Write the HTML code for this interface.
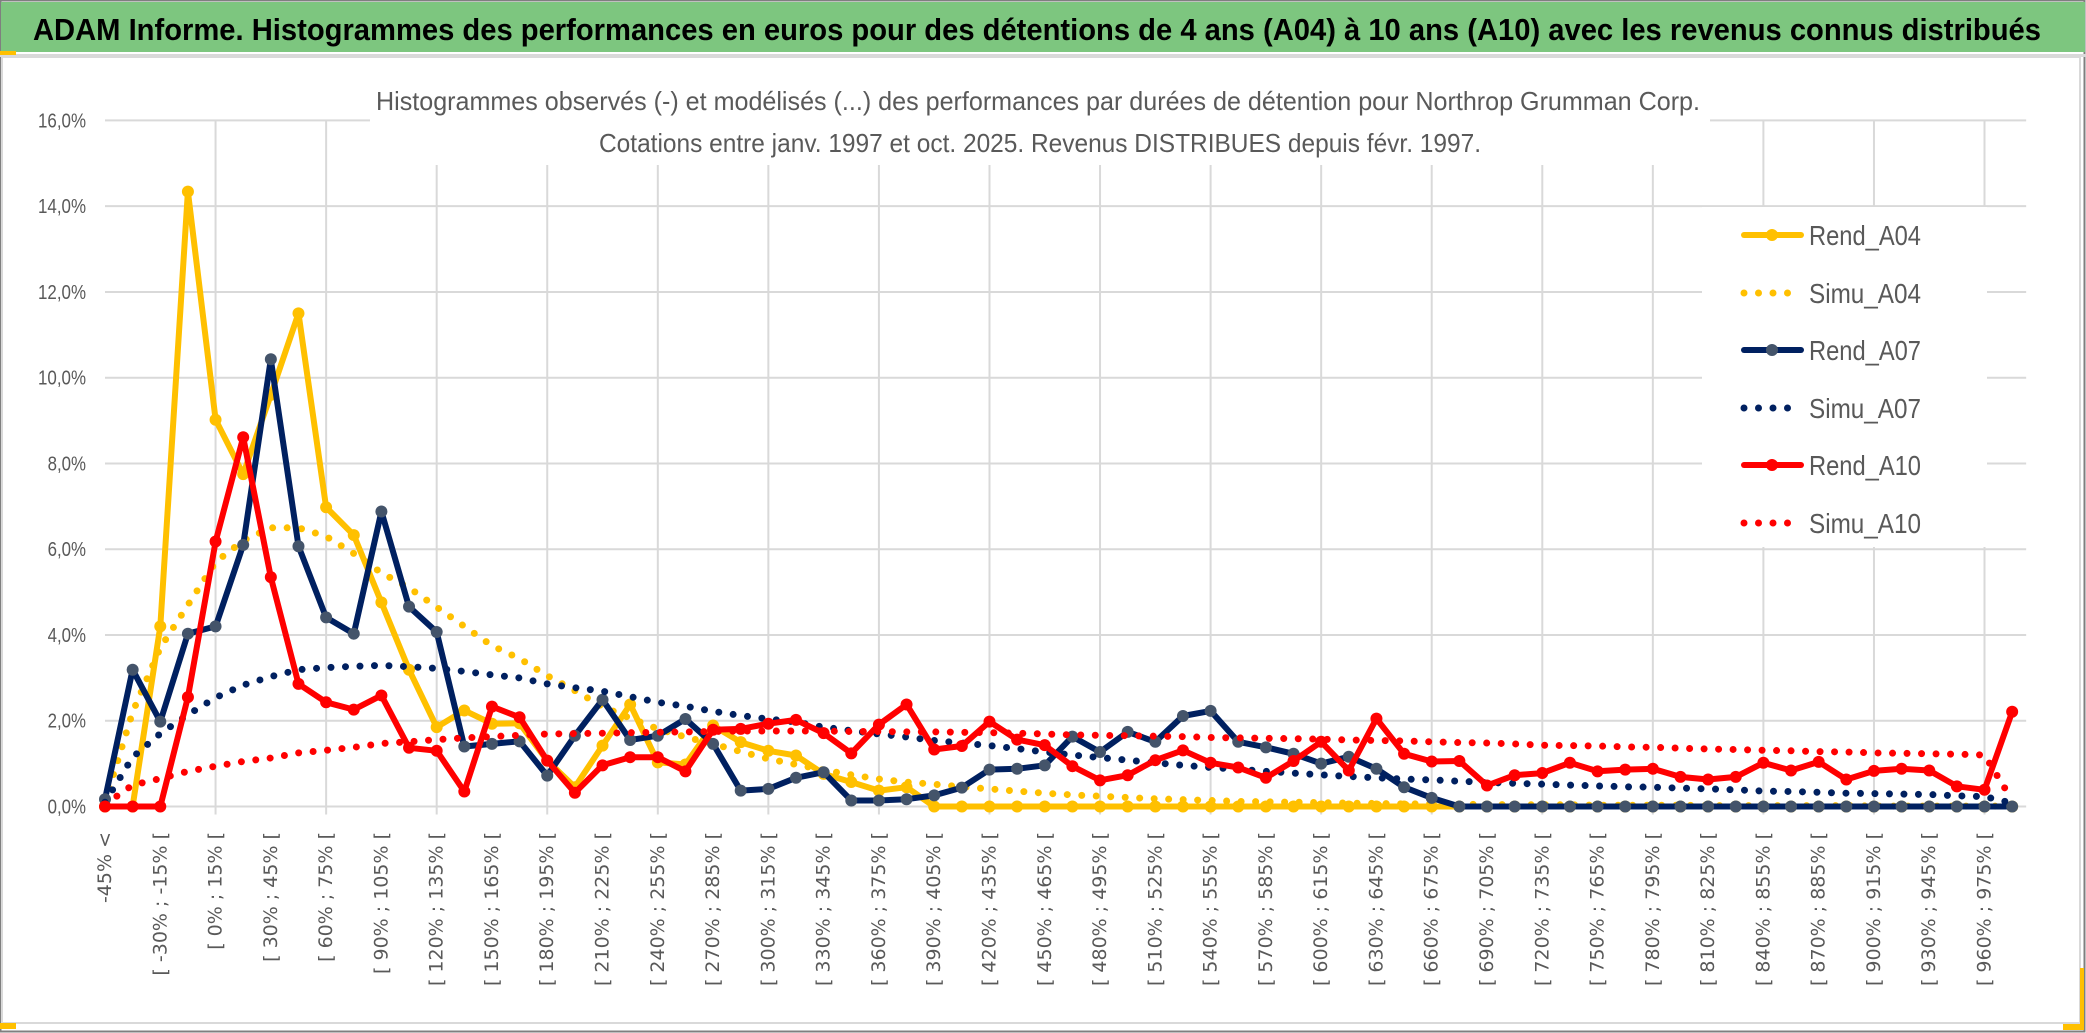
<!DOCTYPE html>
<html><head><meta charset="utf-8"><style>
html,body{margin:0;padding:0;background:#fff;}
svg{display:block;}
</style></head><body>
<svg id="chart" width="2086" height="1033" viewBox="0 0 2086 1033" xmlns="http://www.w3.org/2000/svg">
  <rect x="0" y="0" width="2086" height="1033" fill="#fff"/>
  <rect x="0.5" y="0.5" width="2084" height="1031" fill="none" stroke="#7f7f7f" stroke-width="2"/>
  <rect x="1" y="2" width="2084" height="50" fill="#7dc67f"/>
  <rect x="0" y="54" width="2086" height="3" fill="#d9d9d9"/>
  <rect x="0" y="51" width="16" height="4" fill="#ffc000"/>
  <rect x="2" y="57" width="2078" height="966" fill="none" stroke="#d9d9d9" stroke-width="2"/>
  <rect x="0" y="1023" width="16" height="6" fill="#ffc000"/>
  <rect x="2080" y="968" width="4" height="62" fill="#ffc000"/>
  <rect x="2063" y="1024" width="20" height="6" fill="#ffc000"/>
  <text x="33" y="40" font-family="'Liberation Sans', sans-serif" font-weight="bold" font-size="31" fill="#000" textLength="2008" lengthAdjust="spacingAndGlyphs">ADAM Informe. Histogrammes des performances en euros pour des détentions de 4 ans (A04) à 10 ans (A10) avec les revenus connus distribués</text>
  <g id="grid"></g>
  <rect x="370" y="80" width="1340" height="85" fill="#fff"/>
  <text x="376" y="110" font-family="'Liberation Sans', sans-serif" font-size="26" fill="#595959" textLength="1324" lengthAdjust="spacingAndGlyphs">Histogrammes observés (-) et modélisés (...) des performances par durées de détention pour Northrop Grumman Corp.</text>
  <text x="599" y="152" font-family="'Liberation Sans', sans-serif" font-size="26" fill="#595959" textLength="882" lengthAdjust="spacingAndGlyphs">Cotations entre janv. 1997 et oct. 2025. Revenus DISTRIBUES depuis févr. 1997.</text>
  <g id="yaxis"></g>
  <g id="xaxis"></g>
  <g id="series"></g>
  <g id="legend"></g>
</svg>
<script>
const categoryStarts = [];
for (let k = 1; k < 70; k++) categoryStarts.push(15 * k - 60);
const categories = ["-45% <"].concat(categoryStarts.map(s => "[ " + s + "% ; " + (s + 15) + "% ["));
const yTicks = [0, 2, 4, 6, 8, 10, 12, 14, 16];
const yTickLabels = ["0,0%", "2,0%", "4,0%", "6,0%", "8,0%", "10,0%", "12,0%", "14,0%", "16,0%"];
const seriesNames = ["Rend_A04", "Simu_A04", "Rend_A07", "Simu_A07", "Rend_A10", "Simu_A10"];
const rendA04 = [0,0,4.2,14.34,9.02,7.75,9.6,11.5,6.98,6.33,4.76,3.19,1.85,2.24,1.93,1.94,1.07,0.45,1.42,2.38,1.03,0.98,1.89,1.5,1.3,1.19,0.76,0.57,0.37,0.45,0,0,0,0,0,0,0,0,0,0,0,0,0,0,0,0,0,0,0,0,0,0,0,0,0,0,0,0,0,0,0,0,0,0,0,0,0,0,0,0];
const simuA04 = [0.1,2.2,3.7,4.7,5.7,6.2,6.5,6.5,6.3,5.9,5.45,5.1,4.65,4.2,3.75,3.45,3.05,2.7,2.33,2.06,1.81,1.62,1.46,1.28,1.11,0.98,0.85,0.74,0.64,0.57,0.52,0.46,0.41,0.36,0.31,0.27,0.24,0.21,0.18,0.16,0.14,0.12,0.11,0.1,0.09,0.08,0.07,0.06,0.06,0.05,0.05,0.04,0.04,0.04,0.03,0.03,0.03,0.03,0.02,0.02,0.02,0.02,0.02,0.02,0.01,0.01,0.01,0.01,0.01,0.01];
const rendA07 = [0.17,3.19,1.98,4.03,4.2,6.1,10.43,6.07,4.41,4.03,6.88,4.66,4.07,1.4,1.46,1.52,0.72,1.65,2.49,1.55,1.65,2.04,1.46,0.37,0.41,0.67,0.8,0.14,0.14,0.17,0.26,0.44,0.86,0.88,0.96,1.63,1.27,1.74,1.51,2.11,2.23,1.51,1.38,1.23,1.0,1.16,0.88,0.45,0.2,0,0,0,0,0,0,0,0,0,0,0,0,0,0,0,0,0,0,0,0,0];
const simuA07 = [0.1,1.15,1.7,2.14,2.54,2.83,3.03,3.19,3.24,3.27,3.29,3.26,3.22,3.15,3.07,3.0,2.86,2.77,2.69,2.56,2.43,2.34,2.22,2.12,2.04,1.97,1.85,1.77,1.69,1.62,1.54,1.48,1.42,1.35,1.27,1.2,1.14,1.08,1.02,0.96,0.91,0.87,0.82,0.78,0.74,0.7,0.67,0.64,0.62,0.59,0.56,0.54,0.52,0.5,0.48,0.46,0.45,0.43,0.41,0.39,0.36,0.35,0.33,0.31,0.3,0.29,0.28,0.25,0.23,0.08];
const rendA10 = [0,0,0,2.55,6.18,8.61,5.35,2.86,2.43,2.26,2.59,1.37,1.3,0.35,2.33,2.08,1.07,0.32,0.96,1.15,1.15,0.82,1.79,1.81,1.93,2.02,1.71,1.24,1.91,2.38,1.33,1.41,1.98,1.56,1.43,0.94,0.61,0.73,1.08,1.31,1.02,0.91,0.67,1.06,1.51,0.84,2.05,1.23,1.05,1.06,0.49,0.73,0.78,1.02,0.82,0.86,0.88,0.69,0.63,0.69,1.02,0.84,1.04,0.63,0.83,0.88,0.84,0.47,0.39,2.21];
const simuA10 = [0.05,0.5,0.65,0.82,0.94,1.05,1.13,1.25,1.31,1.38,1.47,1.51,1.56,1.6,1.63,1.66,1.69,1.7,1.71,1.72,1.73,1.74,1.75,1.76,1.76,1.76,1.76,1.75,1.75,1.74,1.74,1.73,1.72,1.71,1.69,1.67,1.66,1.65,1.64,1.63,1.61,1.6,1.59,1.58,1.57,1.55,1.54,1.53,1.51,1.49,1.48,1.46,1.43,1.42,1.41,1.39,1.38,1.36,1.34,1.33,1.31,1.3,1.28,1.27,1.25,1.24,1.23,1.22,1.2,0.15];

const NS = "http://www.w3.org/2000/svg";
const X0 = 105, STEP = 27.64, Y0 = 806.5, PER = 42.88;
function xPos(i) { return X0 + STEP * i; }
function yPos(v) { return Y0 - PER * v; }
function mk(tag, parent, attrs) {
  const e = document.createElementNS(NS, tag);
  for (const k in attrs) e.setAttribute(k, attrs[k]);
  parent.appendChild(e);
  return e;
}
const grid = document.getElementById("grid");
const yaxis = document.getElementById("yaxis");
const xaxis = document.getElementById("xaxis");
const seriesG = document.getElementById("series");
const legend = document.getElementById("legend");
const PLOT_L = X0, PLOT_R = xPos(categories.length - 1) + 14;

yTicks.forEach((t, k) => {
  const l = mk("line", grid, {x1: PLOT_L, x2: PLOT_R, y1: yPos(t), y2: yPos(t), stroke: "#d9d9d9", "stroke-width": 2});
  
  
  const tx = mk("text", yaxis, {x: 86, y: yPos(t) + 7, "text-anchor": "end", "font-family": "'Liberation Sans', sans-serif", "font-size": 20, fill: "#595959", textLength: yTickLabels[k].length * 9.6, lengthAdjust: "spacingAndGlyphs"});
  tx.textContent = yTickLabels[k];
  
  
});
for (let i = 4; i < categories.length; i += 4) {
  const l = mk("line", grid, {x1: xPos(i), x2: xPos(i), y1: yPos(16), y2: Y0 + 8, stroke: "#d9d9d9", "stroke-width": 2});
  
  
}
categories.forEach((c, i) => {
  if (i % 2 !== 0) return;
  const x = xPos(i), y = 832;
  const tx = mk("text", xaxis, {x: x, y: y, transform: "rotate(-90 " + x + " " + y + ")", "text-anchor": "end", "dominant-baseline": "central", "font-family": "'DejaVu Sans', sans-serif", "font-size": 19, fill: "#595959"});
  tx.textContent = c;
  
  
});

const seriesData = [rendA04, simuA04, rendA07, simuA07, rendA10, simuA10];
const colors = ["#ffc000", "#ffc000", "#002060", "#002060", "#ff0000", "#ff0000"];
const markerColors = ["#ffc000", null, "#44546a", null, "#ff0000", null];
seriesData.forEach((vals, s) => {
  const g = mk("g", seriesG, {});
  
  
  const d = vals.map((v, i) => (i ? "L" : "M") + xPos(i).toFixed(1) + " " + yPos(v).toFixed(1)).join(" ");
  const dotted = s % 2 === 1;
  const p = mk("path", g, {d: d, fill: "none", stroke: colors[s], "stroke-width": dotted ? 7 : 6, "stroke-linecap": "round", "stroke-linejoin": "round"});
  if (dotted) p.setAttribute("stroke-dasharray", "0 14.5");
  
  
  if (markerColors[s]) {
    vals.forEach((v, i) => {
      const c = mk("circle", g, {cx: xPos(i), cy: yPos(v), r: 6, fill: markerColors[s]});
      
      
    });
  }
});

const lb = mk("rect", legend, {x: 1702, y: 207, width: 285, height: 340, fill: "#fff"});


const legendY = [235, 293, 350, 408, 465, 523];
seriesNames.forEach((n, s) => {
  const g = mk("g", legend, {});
  
  
  const y = legendY[s];
  const dotted = s % 2 === 1;
  const l = mk("line", g, {x1: 1744, x2: 1801, y1: y, y2: y, stroke: colors[s], "stroke-width": dotted ? 7 : 6, "stroke-linecap": "round"});
  if (dotted) l.setAttribute("stroke-dasharray", "0 14.5");
  
  
  if (markerColors[s]) {
    const c = mk("circle", g, {cx: 1772, cy: y, r: 6, fill: markerColors[s]});
    
    
  }
  const t = mk("text", g, {x: 1809, y: y + 10, "font-family": "'Liberation Sans', sans-serif", "font-size": 28, fill: "#595959", textLength: 112, lengthAdjust: "spacingAndGlyphs"});
  t.textContent = n;
  
  
});
</script>
</body></html>
